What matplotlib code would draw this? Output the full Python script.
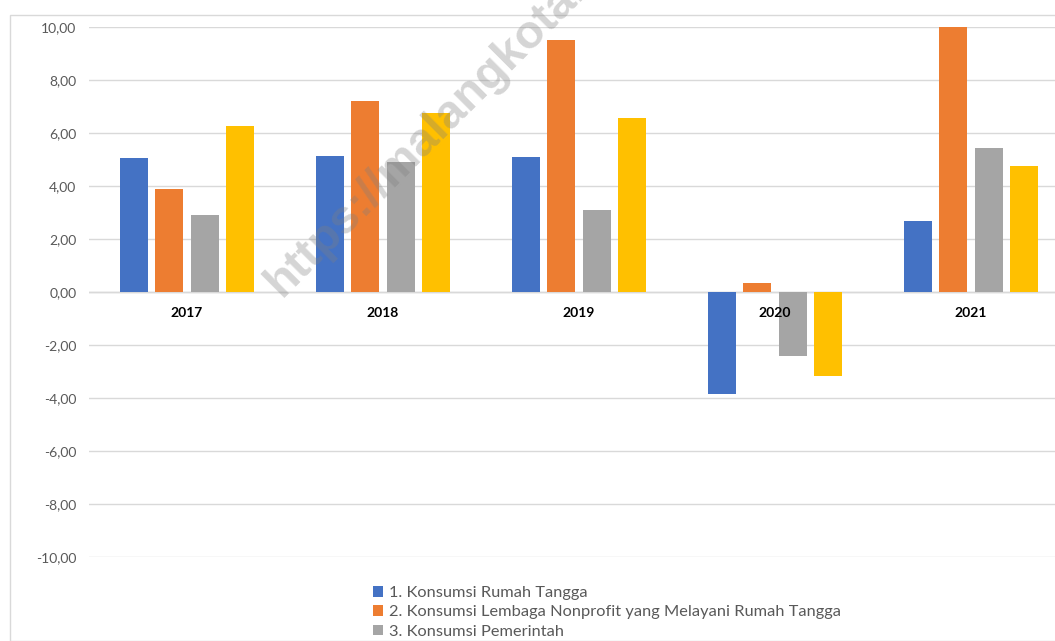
import matplotlib
matplotlib.use("Agg")
import matplotlib.pyplot as plt
from matplotlib.patches import Patch
from matplotlib.ticker import FuncFormatter, MultipleLocator
import numpy as np

years = ["2017", "2018", "2019", "2020", "2021"]
series_names = [
    "1. Konsumsi Rumah Tangga",
    "2. Konsumsi Lembaga Nonprofit yang Melayani Rumah Tangga",
    "3. Konsumsi Pemerintah",
    "4. Pembentukan Modal Tetap Bruto",
]
rumah_tangga = [5.06, 5.13, 5.09, -3.85, 2.68]
lnprt = [3.89, 7.21, 9.51, 0.34, 10.00]
pemerintah = [2.91, 4.91, 3.09, -2.42, 5.42]
pmtb = [6.26, 6.75, 6.57, -3.17, 4.75]
values = [rumah_tangga, lnprt, pemerintah, pmtb]
colors = ["#4472C4", "#ED7D31", "#A5A5A5", "#FFC000"]

plt.rcParams["font.family"] = ["Lato", "DejaVu Sans"]

W, H = 1055, 641
fig = plt.figure(figsize=(W / 100, H / 100), dpi=100)

# chart frame (partially cropped in original)
frame = plt.Rectangle((10 / W, 0), 1.2, (H - 15) / H, transform=fig.transFigure,
                      fill=False, edgecolor="#D9D9D9", linewidth=1)
fig.patches.append(frame)

left_px, right_px = 89, 1069
top_px, bot_px = 27, 557
ax = fig.add_axes([left_px / W, (H - bot_px) / H, (right_px - left_px) / W, (bot_px - top_px) / H])
ax.set_facecolor("none")

x = np.arange(len(years))
bw = 0.143
pitch = 0.181
for i, (vals, c, name) in enumerate(zip(values, colors, series_names)):
    ax.bar(x + (i - 1.5) * pitch, vals, width=bw, color=c, label=name, zorder=3)

ax.set_xlim(-0.5, len(years) - 0.5)
ax.set_ylim(-10, 10)
ax.yaxis.set_major_locator(MultipleLocator(2))
ax.yaxis.set_major_formatter(FuncFormatter(lambda v, p: f"{v:.2f}".replace(".", ",")))
ax.grid(axis="y", color="#D9D9D9", linewidth=1, zorder=0)
ax.axhline(0, color="#D0D0D0", linewidth=1, zorder=1)
for s in ax.spines.values():
    s.set_visible(False)
ax.tick_params(axis="y", length=0, pad=9, labelsize=10, labelcolor="#595959")
ax.set_xticks([])

for xi, yr in zip(x, years):
    ax.text(xi, -0.8, yr, ha="center", va="center", fontsize=10, fontweight="bold",
            color="#000000", zorder=4)

handles = [Patch(facecolor=c) for c in colors[:3]]
fig.legend(handles, series_names[:3], loc="upper left",
           bbox_to_anchor=(373 / W, 1 - 586 / H), frameon=False,
           fontsize=11.8, labelcolor="#595959", handlelength=0.62, handleheight=0.62,
           handletextpad=0.35, labelspacing=0.32, borderaxespad=0, borderpad=0)

fig.text(282 / W, 1 - 298 / H, "https://malangkota.bps.go.id", rotation=45,
         fontsize=34, fontweight="bold", color="#808080", alpha=0.33,
         family="Liberation Sans",
         ha="left", va="baseline", rotation_mode="anchor", zorder=10)

fig.savefig("out.png", dpi=100)
